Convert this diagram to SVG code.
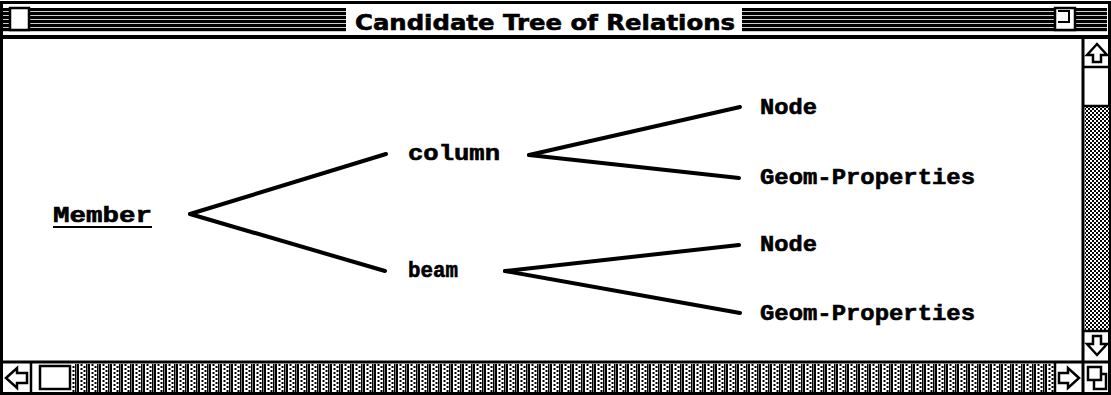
<svg xmlns="http://www.w3.org/2000/svg" width="1111" height="395" viewBox="0 0 1111 395">
<defs>
<pattern id="stripes" width="8" height="4" patternUnits="userSpaceOnUse">
<rect width="8" height="4" fill="#fff"/>
<rect y="0" width="8" height="3.2" fill="#000"/>
</pattern>
<pattern id="grayv" width="11" height="4" patternUnits="userSpaceOnUse">
<rect width="11" height="4" fill="#fff"/>
<rect x="0" y="0" width="2" height="4" fill="#000"/>
<rect x="3.5" y="0" width="2" height="2" fill="#000"/>
<rect x="6.5" y="2" width="2" height="2" fill="#000"/>
<rect x="9" y="0" width="1.5" height="4" fill="#000"/>
</pattern>
<pattern id="grayd" width="4" height="4" patternUnits="userSpaceOnUse">
<rect width="4" height="4" fill="#fff"/>
<rect x="0" y="0" width="2" height="2" fill="#000"/>
<rect x="2" y="2" width="2" height="2" fill="#000"/>
</pattern>
</defs>
<style>
.lbl{font-family:"Liberation Mono","DejaVu Sans Mono",monospace;font-weight:bold;font-size:22px;fill:#000;stroke:#000;stroke-width:0.6}
.edge{stroke:#000;stroke-width:4;stroke-linecap:round;fill:none}
.frame{fill:none;stroke:#000;stroke-width:3}
.box{fill:#fff;stroke:#000;stroke-width:2.5}
.arrow{fill:#fff;stroke:#000;stroke-width:2.5;stroke-linejoin:miter}
</style>
<rect width="1111" height="395" fill="#fff"/>

<!-- title bar -->
<rect x="3" y="8" width="1104" height="24" fill="url(#stripes)"/>
<rect x="346" y="5" width="396" height="30" fill="#fff"/>
<text x="545" y="30" text-anchor="middle" font-family="DejaVu Sans, sans-serif" font-weight="bold" font-size="22" stroke="#000" stroke-width="0.6" textLength="380" lengthAdjust="spacingAndGlyphs">Candidate Tree of Relations</text>
<rect x="10" y="8" width="19" height="22" class="box"/>
<rect x="1055" y="8" width="20" height="22" class="box"/>
<path d="M1058 11 H1069 V22 H1058" fill="none" stroke="#000" stroke-width="2"/>
<line x1="1" y1="37" x2="1110" y2="37" stroke="#000" stroke-width="4"/>
<rect x="1.5" y="2.5" width="1108" height="391" class="frame"/>

<!-- right scrollbar -->
<line x1="1083" y1="39" x2="1083" y2="362" stroke="#000" stroke-width="3"/>
<rect x="1085" y="107" width="24" height="224" fill="url(#grayd)"/>
<line x1="1084" y1="67" x2="1110" y2="67" stroke="#000" stroke-width="2.5"/>
<line x1="1084" y1="106" x2="1110" y2="106" stroke="#000" stroke-width="2.5"/>
<line x1="1084" y1="331" x2="1110" y2="331" stroke="#000" stroke-width="2.5"/>
<path d="M1097 44 L1107 55 H1101 V62 H1093 V55 H1087 Z" class="arrow"/>
<path d="M1097 355 L1107 344 H1101 V336 H1093 V344 H1087 Z" class="arrow"/>

<!-- bottom scrollbar -->
<line x1="1" y1="362" x2="1110" y2="362" stroke="#000" stroke-width="3"/>
<rect x="72" y="364" width="983" height="28" fill="url(#grayv)"/>
<line x1="31" y1="362" x2="31" y2="394" stroke="#000" stroke-width="2.5"/>
<rect x="40" y="366" width="30" height="23" class="box"/>
<line x1="1055" y1="362" x2="1055" y2="394" stroke="#000" stroke-width="2.5"/>
<line x1="1083" y1="362" x2="1083" y2="394" stroke="#000" stroke-width="3"/>
<path d="M6 378 L17 368 V373 H27 V383 H17 V388 Z" class="arrow"/>
<path d="M1079 378 L1068 368 V373 H1059 V383 H1068 V388 Z" class="arrow"/>
<rect x="1088" y="367" width="13" height="13" class="box"/>
<path d="M1094 380 V389 H1106 V374 H1101" fill="none" stroke="#000" stroke-width="2.5"/>

<!-- connectors -->
<g id="connectors">
<line class="edge" x1="190" y1="214" x2="386" y2="154"/>
<line class="edge" x1="190" y1="214" x2="385" y2="271"/>
<line class="edge" x1="529" y1="155" x2="740" y2="107"/>
<line class="edge" x1="529" y1="155" x2="739" y2="178"/>
<line class="edge" x1="505" y1="271" x2="739" y2="245"/>
<line class="edge" x1="505" y1="271" x2="740" y2="313"/>
</g>

<!-- nodes -->
<g id="node-member">
<text class="lbl" x="53" y="222" textLength="99" lengthAdjust="spacingAndGlyphs">Member</text>
<line x1="53" y1="227" x2="152" y2="227" stroke="#000" stroke-width="2"/>
</g>
<g id="node-column"><text class="lbl" x="408" y="160" textLength="92" lengthAdjust="spacingAndGlyphs">column</text></g>
<g id="node-beam"><text class="lbl" x="408" y="277" textLength="50" lengthAdjust="spacingAndGlyphs">beam</text></g>
<g id="node-node1"><text class="lbl" x="760" y="114" textLength="57" lengthAdjust="spacingAndGlyphs">Node</text></g>
<g id="node-geom1"><text class="lbl" x="760" y="184" textLength="215" lengthAdjust="spacingAndGlyphs">Geom-Properties</text></g>
<g id="node-node2"><text class="lbl" x="760" y="251" textLength="57" lengthAdjust="spacingAndGlyphs">Node</text></g>
<g id="node-geom2"><text class="lbl" x="760" y="320" textLength="215" lengthAdjust="spacingAndGlyphs">Geom-Properties</text></g>
</svg>
